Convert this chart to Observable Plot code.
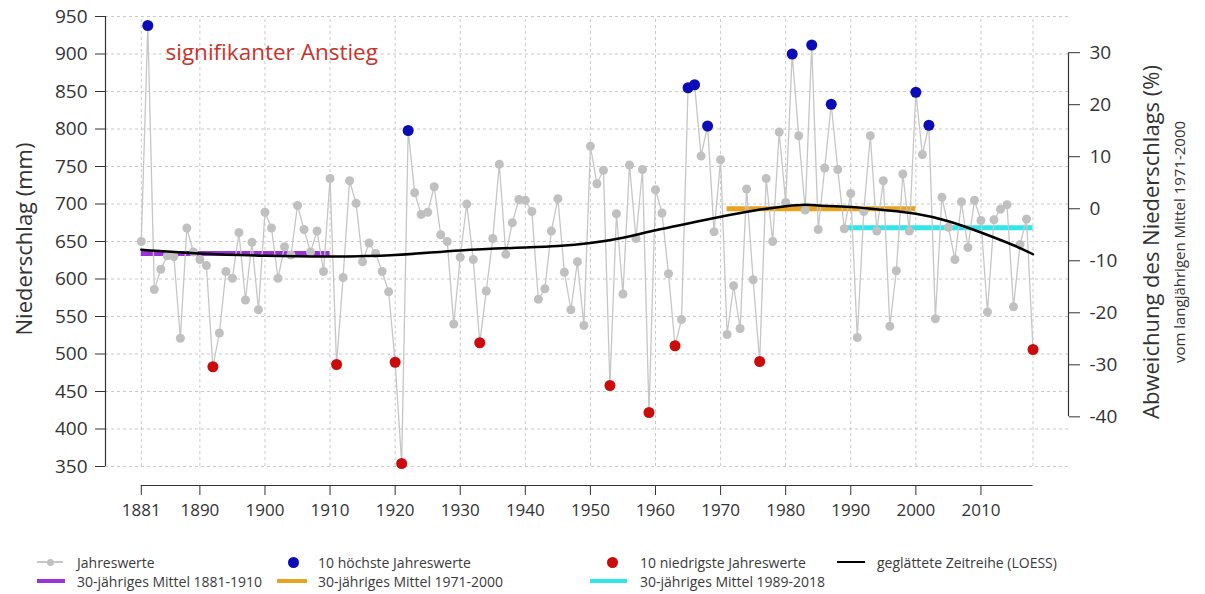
<!DOCTYPE html>
<html>
<head>
<meta charset="utf-8">
<script src="https://cdn.jsdelivr.net/npm/d3@7"></script>
<script src="https://cdn.jsdelivr.net/npm/@observablehq/plot@0.6"></script>
<style>
  body { margin: 0; background: #fff; font-family: "Open Sans", sans-serif; }
  #chart { width: 1205px; }
  .legend { position: relative; width: 1205px; height: 64px; font-size: 14px; color: #3a3a3a; }
  .legend .t { position: absolute; transform: translateY(-50%); white-space: nowrap; }
  .legend .s { position: absolute; }
</style>
</head>
<body>
<div id="chart"></div>
<script>
// ---- data ----
const years = d3.range(1881, 2019);
const precip = [
  650, 938, 586, 613, 631, 630, 521, 668, 636, 626,
  618, 483, 528, 610, 601, 662, 572, 649, 559, 689,
  668, 601, 643, 632, 698, 666, 636, 664, 610, 734,
  486, 602, 731, 701, 623, 648, 634, 610, 583, 489,
  354, 798, 715, 686, 689, 723, 659, 650, 540, 629,
  700, 626, 515, 584, 654, 753, 633, 675, 706, 705,
  690, 573, 587, 664, 707, 609, 559, 623, 538, 777,
  727, 745, 458, 687, 580, 752, 654, 746, 422, 719,
  688, 607, 511, 546, 855, 859, 764, 804, 663, 759,
  526, 591, 534, 720, 599, 490, 734, 650, 796, 702,
  900, 791, 692, 912, 666, 748, 833, 746, 667, 714,
  522, 690, 791, 664, 731, 537, 611, 740, 664, 849,
  766, 805, 547, 709, 669, 626, 703, 642, 705, 678,
  556, 679, 693, 699, 563, 646, 680, 506
];
const loessYears  = [1881, 1890, 1900, 1910, 1920, 1930, 1940, 1945, 1950, 1955, 1960, 1965, 1970, 1975, 1980, 1983, 1985, 1990, 1995, 2000, 2005, 2010, 2015, 2018];
const loessValues = [ 639,  634,  631,  630,  632,  638,  642,  644,  648,  655,  665,  674,  683,  691,  697,  699,  698,  696,  692,  687,  677,  662,  645,  633];
const periodStart = [1881, 1971, 1989];
const periodEnd   = [1910, 2000, 2018];
const periodColors = ["#9b32d8", "#e8a321", "#30e6ea"];
const refStart = 1971, refEnd = 2000;
const yTicks = [350, 400, 450, 500, 550, 600, 650, 700, 750, 800, 850, 900, 950];
const xTicks = [1881, 1890, 1900, 1910, 1920, 1930, 1940, 1950, 1960, 1970, 1980, 1990, 2000, 2010];
const xGridYears = [...xTicks, 2018];
const pctTicks = [30, 20, 10, 0, -10, -20, -30, -40];

// ---- derived tables ----
const data = years.map((year, i) => ({year, value: precip[i]}));
const loess = loessYears.map((year, i) => ({year, value: loessValues[i]}));
const ref = d3.mean(data.filter(d => d.year >= refStart && d.year <= refEnd), d => d.value);
const means = periodStart.map((a, i) => ({
  x1: a, x2: periodEnd[i], color: periodColors[i],
  y: d3.mean(data.filter(d => d.year >= a && d.year <= periodEnd[i]), d => d.value)
}));
const sorted = d3.sort(data, d => d.value);
const lowest = sorted.slice(0, 10);
const highest = sorted.slice(-10);
const xDomain = [1875.5, 2023.45];
const grid = {stroke: "#c9c9c9", strokeDasharray: "3,3", strokeWidth: 1};
const ink = "#333";

const chart = Plot.plot({
  width: 1205, height: 530,
  marginLeft: 105, marginRight: 137, marginTop: 16, marginBottom: 45,
  style: {fontFamily: "Open Sans, sans-serif", background: "white", color: ink},
  x: {domain: xDomain},
  y: {domain: [350, 950], range: [466, 16]},
  marks: [
    Plot.ruleY(yTicks, grid),
    Plot.ruleX(xGridYears, {...grid, y1: 350, y2: 950}),
    // axes lines
    Plot.ruleX([xDomain[0]], {y1: 350, y2: 950, stroke: ink, strokeWidth: 1.2}),
    Plot.ruleX([xDomain[1]], {y1: ref * (1 + d3.min(pctTicks) / 100), y2: ref * (1 + d3.max(pctTicks) / 100), stroke: ink, strokeWidth: 1.2}),
    Plot.ruleY([350], {x1: years[0], x2: years[years.length - 1], dy: 19, stroke: ink, strokeWidth: 1.2}),
    Plot.axisY(yTicks, {anchor: "left", tickSize: 10, tickPadding: 8, fontSize: 19, label: null, stroke: ink, fill: ink}),
    Plot.axisY(pctTicks.map(p => ref * (1 + p / 100)), {
      anchor: "right", tickSize: 11, tickPadding: 10, fontSize: 19, label: null, stroke: ink, fill: ink,
      tickFormat: d => String(Math.round((d / ref - 1) * 100))
    }),
    Plot.axisX(xTicks, {anchor: "bottom", tickSize: 10, tickPadding: 8, fontSize: 17, label: null, stroke: ink, fill: ink, tickFormat: d => String(d)}),
    // series
    ...means.map(m => Plot.ruleY([m], {x1: "x1", x2: "x2", y: "y", stroke: m.color, strokeWidth: 5})),
    Plot.line(data, {x: "year", y: "value", stroke: "#c6c6c6", strokeWidth: 1.3}),
    Plot.dot(data, {x: "year", y: "value", r: 4.5, fill: "#c0c0c0"}),
    Plot.line(loess, {x: "year", y: "value", curve: "natural", stroke: "#000", strokeWidth: 2.5}),
    Plot.dot(highest, {x: "year", y: "value", r: 5.5, fill: "#0b0bb8"}),
    Plot.dot(lowest, {x: "year", y: "value", r: 5.5, fill: "#cc0b0b"}),
    // texts
    Plot.text(["signifikanter Anstieg"], {frameAnchor: "top-left", dx: 60, dy: 28, textAnchor: "start", fill: "#c8332c", fontSize: 22.5}),
    Plot.text(["Niederschlag (mm)"], {frameAnchor: "left", textAnchor: "middle", rotate: -90, dx: -81, dy: -12, fontSize: 22, fill: ink}),
    Plot.text(["Abweichung des Niederschlags (%)"], {frameAnchor: "right", textAnchor: "middle", rotate: -90, dx: 83, dy: -9, fontSize: 22, fill: ink}),
    Plot.text(["vom langjährigen Mittel 1971-2000"], {frameAnchor: "right", textAnchor: "middle", rotate: -90, dx: 112, dy: -9, fontSize: 15, fill: ink})
  ]
});
document.getElementById("chart").append(chart);

// ---- legend ----
const legendItems = [
  {type: "linedot", color: "#c6c6c6", dot: "#c0c0c0", x0: 37, x1: 63, tx: 77, row: 0, label: "Jahreswerte"},
  {type: "bar", color: periodColors[0], x0: 37, x1: 65, tx: 77, row: 1, label: "30-jähriges Mittel 1881-1910"},
  {type: "dot", color: "#0b0bb8", x0: 293, tx: 318, row: 0, label: "10 höchste Jahreswerte"},
  {type: "bar", color: periodColors[1], x0: 277, x1: 307, tx: 318, row: 1, label: "30-jähriges Mittel 1971-2000"},
  {type: "dot", color: "#cc0b0b", x0: 612, tx: 640, row: 0, label: "10 niedrigste Jahreswerte"},
  {type: "bar", color: periodColors[2], x0: 590, x1: 627, tx: 640, row: 1, label: "30-jähriges Mittel 1989-2018"},
  {type: "line", color: "#000", x0: 837, x1: 865, tx: 877, row: 0, label: "geglättete Zeitreihe (LOESS)"}
];
const rowY = [32, 51];
const legend = document.createElement("div");
legend.className = "legend";
for (const it of legendItems) {
  const cy = rowY[it.row];
  if (it.type === "bar" || it.type === "line" || it.type === "linedot") {
    const h = it.type === "bar" ? 4 : it.type === "line" ? 2.5 : 1.3;
    const s = document.createElement("div");
    s.className = "s";
    Object.assign(s.style, {left: it.x0 + "px", width: (it.x1 - it.x0) + "px", top: (cy - h / 2) + "px", height: h + "px", background: it.color});
    legend.append(s);
  }
  if (it.type === "dot" || it.type === "linedot") {
    const r = it.type === "dot" ? 5.5 : 3.5;
    const cx = it.type === "dot" ? it.x0 : (it.x0 + it.x1) / 2;
    const s = document.createElement("div");
    s.className = "s";
    Object.assign(s.style, {left: (cx - r) + "px", top: (cy - r) + "px", width: 2 * r + "px", height: 2 * r + "px", borderRadius: "50%", background: it.dot || it.color});
    legend.append(s);
  }
  const t = document.createElement("div");
  t.className = "t";
  t.style.left = it.tx + "px";
  t.style.top = cy + "px";
  t.textContent = it.label;
  legend.append(t);
}
document.getElementById("chart").append(legend);
</script>
</body>
</html>
